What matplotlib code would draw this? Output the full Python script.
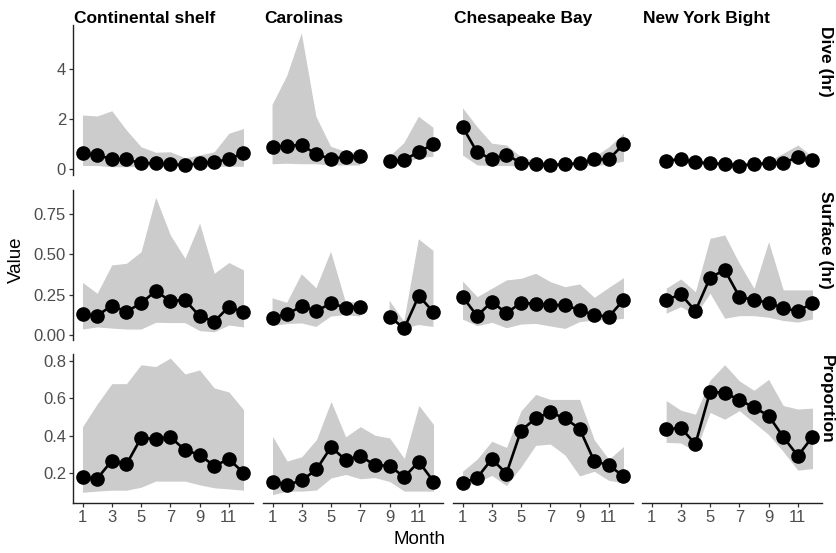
import numpy as np
import matplotlib
matplotlib.use("Agg")
import matplotlib.pyplot as plt

plt.rcParams['font.family'] = ['Liberation Sans', 'DejaVu Sans']

nan = np.nan
months = np.arange(1, 13)
regions = ["Continental shelf", "Carolinas", "Chesapeake Bay", "New York Bight"]
metrics = ["Dive (hr)", "Surface (hr)", "Proportion"]

# dive duration (hr)
dive_mean = {
    "Continental shelf": [0.64, 0.57, 0.40, 0.40, 0.24, 0.24, 0.20, 0.17, 0.24, 0.28, 0.41, 0.64],
    "Carolinas": [0.90, 0.94, 0.97, 0.60, 0.41, 0.50, 0.54, nan, 0.33, 0.37, 0.70, 1.00],
    "Chesapeake Bay": [1.70, 0.68, 0.41, 0.57, 0.26, 0.21, 0.17, 0.21, 0.24, 0.40, 0.40, 1.00],
    "New York Bight": [nan, 0.33, 0.41, 0.28, 0.24, 0.21, 0.14, 0.21, 0.24, 0.26, 0.48, 0.37],
}
dive_lo = {
    "Continental shelf": [0.15, 0.15, 0.10, 0.10, 0.12, 0.12, 0.12, 0.12, 0.12, 0.12, 0.12, 0.12],
    "Carolinas": [0.20, 0.22, 0.20, 0.20, 0.15, 0.15, 0.15, nan, 0.22, 0.22, 0.45, 0.50],
    "Chesapeake Bay": [0.57, 0.17, 0.15, 0.15, 0.13, 0.12, 0.12, 0.12, 0.13, 0.15, 0.20, 0.33],
    "New York Bight": [nan, 0.26, 0.33, 0.21, 0.17, 0.14, 0.08, 0.14, 0.17, 0.19, 0.34, 0.29],
}
dive_hi = {
    "Continental shelf": [2.17, 2.13, 2.34, 1.57, 0.90, 0.68, 0.70, 0.46, 0.57, 0.70, 1.44, 1.63],
    "Carolinas": [2.57, 3.73, 5.44, 2.10, 0.90, 0.70, 0.64, nan, 0.50, 1.04, 2.10, 1.66],
    "Chesapeake Bay": [2.46, 1.70, 1.04, 0.97, 0.50, 0.33, 0.26, 0.26, 0.33, 0.50, 0.90, 1.44],
    "New York Bight": [nan, 0.42, 0.49, 0.36, 0.32, 0.29, 0.22, 0.29, 0.34, 0.64, 0.97, 0.50],
}

# surface duration (hr)
surf_mean = {
    "Continental shelf": [0.129, 0.120, 0.182, 0.145, 0.197, 0.273, 0.211, 0.217, 0.118, 0.083, 0.176, 0.141],
    "Carolinas": [0.107, 0.129, 0.180, 0.149, 0.197, 0.170, 0.176, nan, 0.114, 0.041, 0.244, 0.141],
    "Chesapeake Bay": [0.238, 0.118, 0.207, 0.135, 0.201, 0.193, 0.186, 0.186, 0.155, 0.124, 0.114, 0.217],
    "New York Bight": [nan, 0.217, 0.253, 0.149, 0.356, 0.404, 0.238, 0.217, 0.201, 0.166, 0.149, 0.197],
}
surf_lo = {
    "Continental shelf": [0.037, 0.050, 0.043, 0.037, 0.037, 0.079, 0.077, 0.077, 0.027, 0.020, 0.062, 0.050],
    "Carolinas": [0.056, 0.068, 0.072, 0.050, 0.114, 0.124, 0.114, nan, 0.093, 0.040, 0.062, 0.050],
    "Chesapeake Bay": [0.099, 0.058, 0.079, 0.045, 0.068, 0.072, 0.056, 0.041, 0.083, 0.093, 0.093, 0.104],
    "New York Bight": [nan, 0.135, 0.176, 0.125, 0.259, 0.104, 0.120, 0.120, 0.110, 0.090, 0.080, 0.100],
}
surf_hi = {
    "Continental shelf": [0.327, 0.259, 0.435, 0.445, 0.517, 0.855, 0.621, 0.476, 0.694, 0.383, 0.450, 0.404],
    "Carolinas": [0.228, 0.200, 0.377, 0.290, 0.517, 0.207, 0.200, nan, 0.213, 0.083, 0.594, 0.522],
    "Chesapeake Bay": [0.335, 0.238, 0.290, 0.342, 0.352, 0.383, 0.331, 0.300, 0.317, 0.234, 0.296, 0.356],
    "New York Bight": [nan, 0.290, 0.348, 0.269, 0.600, 0.621, 0.445, 0.290, 0.580, 0.280, 0.280, 0.280],
}

# proportion of time at surface
prop_mean = {
    "Continental shelf": [0.176, 0.167, 0.264, 0.244, 0.387, 0.382, 0.391, 0.323, 0.295, 0.237, 0.272, 0.200],
    "Carolinas": [0.152, 0.134, 0.158, 0.217, 0.338, 0.268, 0.290, 0.240, 0.237, 0.176, 0.259, 0.152],
    "Chesapeake Bay": [0.145, 0.172, 0.273, 0.195, 0.427, 0.493, 0.525, 0.493, 0.437, 0.262, 0.240, 0.180],
    "New York Bight": [nan, 0.433, 0.442, 0.354, 0.635, 0.631, 0.592, 0.552, 0.507, 0.393, 0.290, 0.393],
}
prop_lo = {
    "Continental shelf": [0.094, 0.100, 0.105, 0.105, 0.121, 0.154, 0.154, 0.154, 0.134, 0.118, 0.112, 0.105],
    "Carolinas": [0.081, 0.100, 0.100, 0.106, 0.171, 0.190, 0.167, 0.173, 0.152, 0.100, 0.100, 0.100],
    "Chesapeake Bay": [0.130, 0.145, 0.185, 0.130, 0.231, 0.347, 0.354, 0.295, 0.182, 0.207, 0.158, 0.145],
    "New York Bight": [nan, 0.363, 0.360, 0.314, 0.525, 0.488, 0.534, 0.470, 0.405, 0.314, 0.213, 0.222],
}
prop_hi = {
    "Continental shelf": [0.448, 0.570, 0.680, 0.680, 0.782, 0.772, 0.818, 0.732, 0.754, 0.657, 0.635, 0.540],
    "Carolinas": [0.396, 0.262, 0.286, 0.378, 0.584, 0.393, 0.448, 0.402, 0.387, 0.277, 0.562, 0.460],
    "Chesapeake Bay": [0.207, 0.273, 0.369, 0.336, 0.534, 0.622, 0.595, 0.595, 0.595, 0.378, 0.271, 0.341],
    "New York Bight": [nan, 0.589, 0.537, 0.515, 0.699, 0.782, 0.695, 0.644, 0.703, 0.562, 0.543, 0.548],
}

series = [(dive_mean, dive_lo, dive_hi), (surf_mean, surf_lo, surf_hi), (prop_mean, prop_lo, prop_hi)]
yticks = [[0, 2, 4], [0, 0.25, 0.5, 0.75], [0.2, 0.4, 0.6, 0.8]]
yticklabels = [["0", "2", "4"], ["0.00", "0.25", "0.50", "0.75"], ["0.2", "0.4", "0.6", "0.8"]]
ylims = [(-0.23, 5.77), (-0.031, 0.90), (0.036, 0.84)]

W, H = 837, 553
fig = plt.figure(figsize=(W / 100, H / 100), dpi=100)

col_left = [73, 263, 453, 642]
row_top = [25, 190, 354]
row_bot = [175, 340, 503]
pw = 180

for r in range(3):
    mean, lo, hi = series[r]
    for c, reg in enumerate(regions):
        ax = fig.add_axes([col_left[c] / W, 1 - row_bot[r] / H, pw / W, (row_bot[r] - row_top[r]) / H])
        ax.fill_between(months, np.array(lo[reg]), np.array(hi[reg]), color='#cccccc', lw=0)
        ax.plot(months, mean[reg], '-o', color='black', lw=1.9, ms=9.5)
        ax.set_xlim(0.35, 12.65)
        ax.set_ylim(*ylims[r])
        for s in ['top', 'right']:
            ax.spines[s].set_visible(False)
        ax.spines['left'].set_visible(c == 0)
        ax.spines['bottom'].set_visible(r == 2)
        for s in ['left', 'bottom']:
            ax.spines[s].set_color('#222222')
            ax.spines[s].set_linewidth(1.0)
        ax.tick_params(colors='#333333', labelcolor='#4d4d4d', labelsize=12, length=3, width=0.9, pad=2)
        ax.set_xticks([1, 3, 5, 7, 9, 11])
        ax.set_yticks(yticks[r])
        if c == 0:
            ax.set_yticklabels(yticklabels[r])
        else:
            ax.tick_params(axis='y', left=False, labelleft=False)
        if r != 2:
            ax.tick_params(axis='x', bottom=False, labelbottom=False)
        if r == 0:
            fig.text((col_left[c] + 1) / W, 1 - 23 / H, reg, fontsize=12.5, fontweight='bold', ha='left', va='baseline')
        if c == 3:
            fig.text(826 / W, 1 - (row_top[r] + 1) / H, metrics[r], fontsize=12.5, fontweight='bold',
                     rotation=-90, ha='center', va='top')

fig.text(16 / W, 1 - 260 / H, "Value", fontsize=13.5, rotation=90, ha='center', va='center')
fig.text(420 / W, 1 - 540 / H, "Month", fontsize=13.5, ha='center', va='center')

fig.savefig("out.png", dpi=100)
